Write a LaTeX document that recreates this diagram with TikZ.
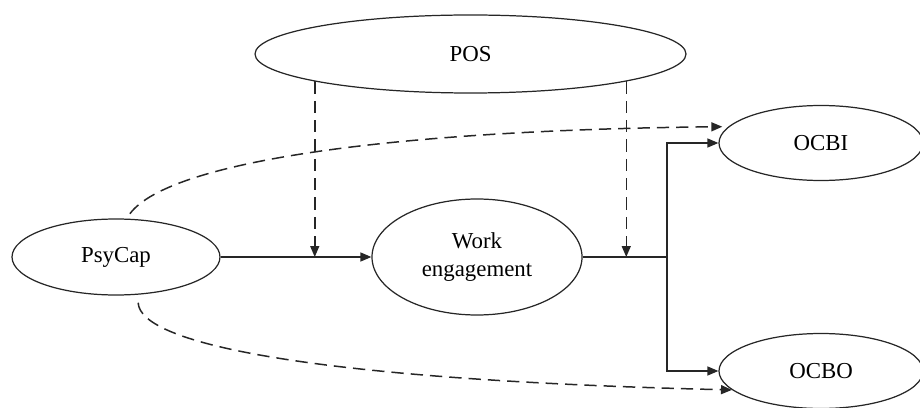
\documentclass[tikz,border=0pt]{standalone}
\usepackage{fontspec}
\setmainfont{Liberation Serif}
\usetikzlibrary{arrows.meta,positioning,calc,shapes.geometric}
\definecolor{ink}{HTML}{262626}
\tikzset{
  construct/.style={draw=ink,ellipse,line width=0.7pt,inner sep=0pt,align=center,
    font=\fontsize{13}{15.5}\selectfont},
  arrow/.style={-{Triangle[length=2.2mm,width=1.8mm]},draw=ink,line width=0.85pt},
  link/.style={draw=ink,line width=0.85pt},
  modarrow/.style={-{Triangle[length=2.2mm,width=1.8mm]},draw=ink,line width=0.85pt,
    dash pattern=on 7pt off 4pt}
}
\begin{document}
\begin{tikzpicture}
  \useasboundingbox (0,0) rectangle (18.4,8.14);
  \node[construct,minimum width=8.62cm,minimum height=1.56cm] (pos) at (9.41,7.06) {POS};
  \node[construct,minimum width=4.16cm,minimum height=1.52cm] (psycap) at (2.32,3.0) {PsyCap};
  \node[construct,minimum width=4.2cm,minimum height=2.32cm] (work) at (9.54,3.0) {Work\\engagement};
  \node[construct,minimum width=4.08cm,minimum height=1.5cm] (ocbi) at (16.42,5.28) {OCBI};
  \node[construct,minimum width=4.08cm,minimum height=1.5cm] (ocbo) at (16.42,0.72) {OCBO};
  \coordinate (split) at (13.34,3.0);
  % mediated path
  \draw[arrow] (psycap) -- (work);
  \draw[link] (work) -- (split);
  \draw[arrow] (split) |- (ocbi);
  \draw[arrow] (split) |- (ocbo);
  % moderation by POS
  \draw[modarrow] (pos.190) -- (pos.190 |- psycap);
  \draw[modarrow] (pos.-10) -- (pos.-10 |- work);
  % direct effects
  \draw[modarrow,shorten <=0.12cm,shorten >=0.12cm] (psycap.75)
    .. controls (3.4,4.94) and (8,5.54) .. (ocbi.170);
  \draw[modarrow,shorten <=0.16cm] (psycap.-60)
    .. controls (2.8,1.24) and (6.4,0.54) .. (ocbo.192);
\end{tikzpicture}
\end{document}
